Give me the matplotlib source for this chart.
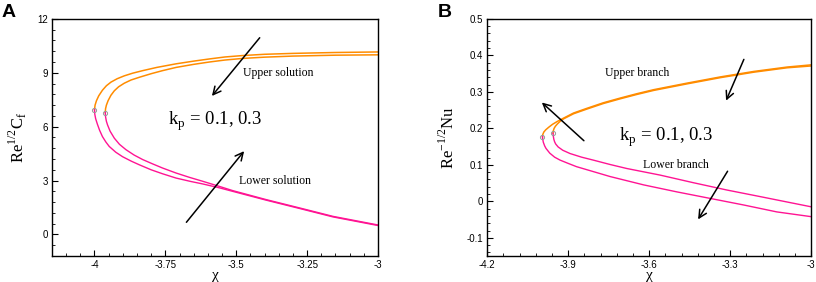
import matplotlib.pyplot as plt
from matplotlib.ticker import MultipleLocator

# Panel A: skin friction, kp = 0.1 (outer) and kp = 0.3 (inner)
a_up1_x = [-4.0, -3.998, -3.993, -3.985, -3.972, -3.958, -3.942, -3.92, -3.895, -3.865, -3.83, -3.78, -3.712,
           -3.65, -3.595, -3.54, -3.477, -3.40, -3.30, -3.15, -3.0]
a_up1_y = [6.95, 7.2, 7.45, 7.72, 8.03, 8.28, 8.48, 8.67, 8.83, 8.98, 9.12, 9.3, 9.5,
           9.65, 9.77, 9.88, 9.96, 10.03, 10.08, 10.13, 10.16]
a_up2_x = [-3.962, -3.961, -3.958, -3.952, -3.942, -3.93, -3.915, -3.895, -3.871, -3.84, -3.8, -3.76, -3.712,
           -3.65, -3.595, -3.54, -3.477, -3.40, -3.30, -3.15, -3.0]
a_up2_y = [6.79, 7.0, 7.2, 7.45, 7.75, 8.0, 8.22, 8.42, 8.6, 8.76, 8.95, 9.12, 9.3,
           9.47, 9.6, 9.71, 9.8, 9.87, 9.93, 9.98, 10.0]
a_lo1_x = [-4.0, -3.999, -3.996, -3.99, -3.982, -3.972, -3.96, -3.948, -3.925, -3.901, -3.87, -3.842, -3.8,
           -3.76, -3.712, -3.66, -3.62, -3.56, -3.512, -3.394, -3.277, -3.159, -3.0]
a_lo1_y = [6.95, 6.7, 6.45, 6.15, 5.8, 5.45, 5.15, 4.9, 4.58, 4.33, 4.08, 3.88, 3.6,
           3.38, 3.14, 2.95, 2.82, 2.6, 2.4, 1.91, 1.45, 0.98, 0.5]
a_lo2_x = [-3.962, -3.961, -3.958, -3.954, -3.945, -3.93, -3.912, -3.889, -3.86, -3.83, -3.795, -3.76, -3.712,
           -3.665, -3.62, -3.56, -3.512, -3.394, -3.277, -3.159, -3.0]
a_lo2_y = [6.79, 6.55, 6.3, 6.1, 5.75, 5.36, 5.02, 4.72, 4.42, 4.17, 3.93, 3.7, 3.42,
           3.18, 2.97, 2.68, 2.44, 1.94, 1.48, 1.01, 0.53]

# Panel B: Nusselt number
b_up1_x = [-3.995, -3.994, -3.99, -3.983, -3.972, -3.958, -3.94, -3.917, -3.88, -3.83, -3.77, -3.707, -3.645,
           -3.583, -3.459, -3.336, -3.212, -3.089, -3.0]
b_up1_y = [0.177, 0.183, 0.19, 0.196, 0.203, 0.211, 0.219, 0.228, 0.242, 0.255, 0.27, 0.283, 0.295,
           0.306, 0.324, 0.341, 0.356, 0.368, 0.374]
b_up2_x = [-3.956, -3.955, -3.952, -3.947, -3.94, -3.93, -3.917, -3.88, -3.83, -3.77, -3.707, -3.645,
           -3.583, -3.459, -3.336, -3.212, -3.089, -3.0]
b_up2_y = [0.187, 0.193, 0.2, 0.206, 0.212, 0.219, 0.226, 0.24, 0.253, 0.268, 0.281, 0.293,
           0.304, 0.322, 0.339, 0.354, 0.366, 0.371]
b_lo1_x = [-3.995, -3.994, -3.992, -3.987, -3.982, -3.968, -3.95, -3.93, -3.9, -3.869, -3.8, -3.745, -3.62,
           -3.498, -3.374, -3.25, -3.127, -3.0]
b_lo1_y = [0.177, 0.17, 0.162, 0.152, 0.145, 0.132, 0.121, 0.113, 0.104, 0.095, 0.08, 0.068, 0.045,
           0.026, 0.008, -0.01, -0.029, -0.042]
b_lo2_x = [-3.956, -3.955, -3.953, -3.95, -3.946, -3.937, -3.92, -3.893, -3.85, -3.807, -3.745, -3.683,
           -3.56, -3.436, -3.312, -3.189, -3.0]
b_lo2_y = [0.187, 0.179, 0.17, 0.163, 0.157, 0.149, 0.14, 0.131, 0.121, 0.113, 0.101, 0.09,
           0.072, 0.051, 0.031, 0.013, -0.015]

a_turn_x = [-4.0, -3.962]
a_turn_y = [6.95, 6.79]
b_turn_x = [-3.995, -3.956]
b_turn_y = [0.177, 0.187]

orange = '#ff8c00'
pink = '#ff1493'

fig = plt.figure(figsize=(8.16, 2.82), dpi=100)
axA = fig.add_axes([0.0637, 0.092, 0.3995, 0.841])
axB = fig.add_axes([0.597, 0.092, 0.397, 0.841])

serif = ['Liberation Serif', 'DejaVu Serif']
sans = ['Liberation Sans', 'DejaVu Sans']

def style(ax):
    for s in ax.spines.values():
        s.set_linewidth(1.0)
    ax.tick_params(which='major', direction='in', length=4, width=0.8, labelsize=7, pad=3)
    ax.tick_params(which='minor', direction='in', length=2, width=0.6)
    for lab in ax.get_xticklabels() + ax.get_yticklabels():
        lab.set_family(sans)

arrow = dict(arrowstyle='->', color='black', lw=1.1, mutation_scale=14)

# ---- Panel A
axA.plot(a_up1_x, a_up1_y, color=orange, lw=1.1)
axA.plot(a_up2_x, a_up2_y, color=orange, lw=1.1)
axA.plot(a_lo1_x, a_lo1_y, color=pink, lw=1.0)
axA.plot(a_lo2_x, a_lo2_y, color=pink, lw=1.0)
axA.plot(a_turn_x, a_turn_y, 'o', mfc='none', mec='#999999', ms=3, mew=0.7)
axA.set_xlim(-4.15, -3)
axA.set_ylim(-1.2, 12)
axA.set_xticks([-4, -3.75, -3.5, -3.25, -3])
axA.set_xticklabels(['-4', '-3.75', '-3.5', '-3.25', '-3'])
axA.set_yticks([0, 3, 6, 9, 12])
axA.xaxis.set_minor_locator(MultipleLocator(0.05))
axA.yaxis.set_minor_locator(MultipleLocator(0.6))
style(axA)
axA.set_xlabel('χ', fontsize=11, family=serif, labelpad=-1)
axA.set_ylabel(r'Re$^{\mathregular{1/2}}$C$_{\mathregular{f}}$', fontsize=12, family=serif, labelpad=6)
axA.annotate('', xy=(-3.592, 7.59), xytext=(-3.411, 11.07), arrowprops=arrow)
axA.annotate('', xy=(-3.466, 4.76), xytext=(-3.682, 0.56), arrowprops=arrow)
axA.text(-3.476, 8.99, 'Upper solution', fontsize=8.5, family=serif, va='center')
axA.text(-3.491, 2.98, 'Lower solution', fontsize=8.5, family=serif, va='center')
axA.text(-3.741, 6.29, r'k$_{\mathregular{p}}$ = 0.1, 0.3', fontsize=13.5, family=serif, va='center')
fig.text(0.002, 0.985, 'A', fontsize=14, fontweight='bold', family=sans, va='top')

# ---- Panel B
axB.plot(b_up1_x, b_up1_y, color=orange, lw=1.1)
axB.plot(b_up2_x, b_up2_y, color=orange, lw=1.1)
axB.plot(b_lo1_x, b_lo1_y, color=pink, lw=1.0)
axB.plot(b_lo2_x, b_lo2_y, color=pink, lw=1.0)
axB.plot(b_turn_x, b_turn_y, 'o', mfc='none', mec='#999999', ms=3, mew=0.7)
axB.set_xlim(-4.2, -3)
axB.set_ylim(-0.15, 0.5)
axB.set_xticks([-4.2, -3.9, -3.6, -3.3, -3])
axB.set_xticklabels(['-4.2', '-3.9', '-3.6', '-3.3', '-3'])
axB.set_yticks([-0.1, 0, 0.1, 0.2, 0.3, 0.4, 0.5])
axB.set_yticklabels(['-0.1', '0', '0.1', '0.2', '0.3', '0.4', '0.5'])
axB.xaxis.set_minor_locator(MultipleLocator(0.06))
axB.yaxis.set_minor_locator(MultipleLocator(0.02))
style(axB)
axB.set_xlabel('χ', fontsize=11, family=serif, labelpad=-1)
axB.set_ylabel(r'Re$^{\mathregular{-1/2}}$Nu', fontsize=12, family=serif, labelpad=6)
axB.annotate('', xy=(-3.319, 0.269), xytext=(-3.245, 0.396), arrowprops=arrow)
axB.annotate('', xy=(-4.005, 0.276), xytext=(-3.834, 0.161), arrowprops=arrow)
axB.annotate('', xy=(-3.424, -0.056), xytext=(-3.304, 0.089), arrowprops=arrow)
axB.text(-3.764, 0.352, 'Upper branch', fontsize=8.5, family=serif, va='center')
axB.text(-3.622, 0.1, 'Lower branch', fontsize=8.5, family=serif, va='center')
axB.text(-3.71, 0.176, r'k$_{\mathregular{p}}$ = 0.1, 0.3', fontsize=13.5, family=serif, va='center')
fig.text(0.536, 0.985, 'B', fontsize=14, fontweight='bold', family=sans, va='top')

fig.savefig('out.png', dpi=100)
